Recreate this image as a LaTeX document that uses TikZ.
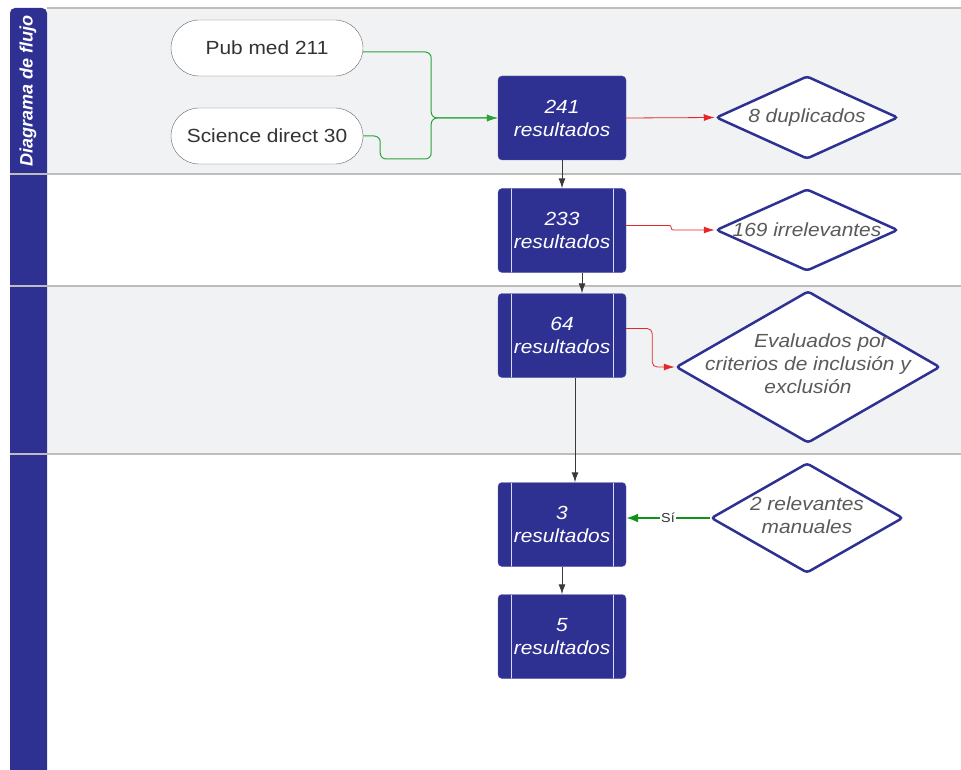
\documentclass[tikz,border=0pt]{standalone}
\usepackage{fontspec}
\setmainfont{Liberation Sans}[FakeStretch=1.1]
\newfontfamily\titlefont{Liberation Sans}
\usepackage{tikz}
\usetikzlibrary{arrows.meta,shapes.geometric,positioning}
\definecolor{laneblue}{HTML}{2E3192}
\definecolor{lanegray}{HTML}{F1F2F4}
\definecolor{laneline}{HTML}{BDBDBD}
\definecolor{flowgreen}{HTML}{2CA33A}
\definecolor{sigreen}{HTML}{11901A}
\definecolor{flowred}{HTML}{E8262A}
\definecolor{flowgray}{HTML}{3A3A3A}
\definecolor{diamtext}{HTML}{5A5A5A}

\begin{document}
\begin{tikzpicture}[x=1pt,y=-1pt,
    pill/.style={draw=black!60,fill=white,rounded corners=28pt,minimum width=192pt,minimum height=56pt,
        font=\fontsize{19}{23}\selectfont,text=black!80},
    resbox/.style={draw=laneblue!80,fill=laneblue,rounded corners=4pt,minimum width=128pt,minimum height=84pt,
        text=white,align=center,font=\fontsize{19}{23}\selectfont\itshape},
    subproc/.style={resbox,path picture={
        \draw[blue!15,line width=1pt] ([xshift=13pt]path picture bounding box.north west) -- ([xshift=13pt]path picture bounding box.south west);
        \draw[blue!15,line width=1pt] ([xshift=-13pt]path picture bounding box.north east) -- ([xshift=-13pt]path picture bounding box.south east);}},
    decision/.style={diamond,draw=laneblue,line width=2.5pt,fill=white,rounded corners=3pt,inner sep=0pt},
    dtext/.style={text=diamtext,align=center,font=\fontsize{19}{23}\selectfont\itshape},
    greenarr/.style={draw=flowgreen,line width=1pt,rounded corners=6pt,-{Latex[length=11pt,width=7pt]}},
    redarr/.style={draw=flowred,line width=0.8pt,rounded corners=5pt,-{Latex[length=11pt,width=7pt]}},
    grayarr/.style={draw=flowgray,line width=1pt,-{Latex[length=10pt,width=7pt]}}]

\useasboundingbox (0,0) rectangle (961,770);

% lanes
\fill[lanegray] (47,8) rectangle (961,174);
\fill[lanegray] (47,286) rectangle (961,454);
\fill[laneblue] (10,770) [rounded corners=5pt] -- (10,8) -- (47,8) [sharp corners] -- (47,770) -- cycle;
\draw[laneline,line width=1.2pt] (47,8) -- (961,8);
\draw[laneline,line width=1.2pt] (10,174) -- (961,174);
\draw[laneline,line width=1.2pt] (10,286) -- (961,286);
\draw[laneline,line width=1.2pt] (10,454) -- (961,454);
\node[rotate=90,text=white,font=\titlefont\fontsize{18}{20}\selectfont\bfseries\itshape] (title) at (28,91) {Diagrama de flujo};

% sources
\node[pill] (pub) at (267,48) {Pub med 211};
\node[pill] (sci) at (267,136) {Science direct 30};

% results
\node[resbox] (r241) at (562,118) {241\\resultados};
\node[subproc] (r233) at (562,230.5) {233\\resultados};
\node[subproc] (r64) at (562,335.5) {64\\resultados};
\node[subproc] (r3) at (562,524.5) {3\\resultados};
\node[subproc] (r5) at (562,636.5) {5\\resultados};

% decisions
\node[decision,minimum width=182pt,minimum height=83pt,label={[dtext]center:8 duplicados}] (d8) at (807,117.5) {};
\node[decision,minimum width=182pt,minimum height=82pt,label={[dtext]center:169 irrelevantes}] (d169) at (807,230) {};
\node[decision,minimum width=264pt,minimum height=152pt,
    label={[dtext,yshift=3pt]center:\hspace*{26pt}Evaluados por\\criterios de inclusión y\\exclusión}] (devl) at (808,367) {};
\node[decision,minimum width=192pt,minimum height=110pt,
    label={[dtext,yshift=3pt]center:2 relevantes\\manuales}] (d2) at (807,518) {};

% connectors
\draw[greenarr] ([yshift=-4pt]pub.east) -- ++(68,0) |- (r241.west);
\draw[greenarr] (sci.east) -- ++(17,0) |- ++(51,23) |- (r241.west);
\draw[redarr] (r241.east) -- (d8.west);
\draw[grayarr] (r241.south) -- (r233.north);
\draw[redarr,rounded corners=2pt] ([yshift=5pt]r233.east) -- ++(45,0) |- (d169.west);
\draw[grayarr] ([xshift=20pt]r233.south) -- ([xshift=20pt]r64.north);
\draw[redarr] ([yshift=7pt]r64.east) -- ++(26,0) |- (devl.west);
\draw[grayarr] ([xshift=13pt]r64.south) -- ([xshift=13pt]r3.north);
\draw[draw=sigreen,line width=2pt,-{Latex[length=12pt,width=9pt]}] (d2.west) -- node[fill=white,inner sep=1pt,text=black!80,font=\fontsize{13}{14}\selectfont] (si) {Sí} (d2.west -| r3.east);
\draw[grayarr] (r3.south) -- (r5.north);

\end{tikzpicture}
\end{document}
